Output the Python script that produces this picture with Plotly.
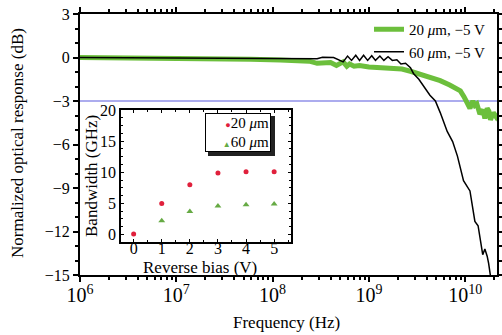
import plotly.graph_objects as go

# Main chart data: frequency (Hz) and normalized optical response (dB)
freq_20 = [1.0e6, 3.0e6, 1.0e7, 3.0e7, 5.9e7, 1.2e8, 2.4e8, 2.9e8, 4.0e8, 4.6e8, 5.4e8, 5.9e8, 6.3e8,
           7.0e8, 8.0e8, 1.0e9, 1.3e9, 1.66e9, 2.2e9, 2.7e9, 3.4e9, 4.3e9, 5.5e9, 6.9e9, 8.0e9,
           8.9e9, 9.7e9, 1.05e10, 1.12e10, 1.2e10, 1.26e10, 1.32e10, 1.42e10, 1.53e10, 1.6e10,
           1.69e10, 1.76e10, 1.83e10, 1.96e10, 2.1e10, 2.2e10]
db_20 = [0.0, -0.02, -0.05, -0.08, -0.12, -0.18, -0.25, -0.4, -0.35, -0.55, -0.3, -0.6, -0.45,
         -0.6, -0.55, -0.65, -0.68, -0.7, -0.8, -0.95, -1.15, -1.4, -1.6, -1.9, -2.1,
         -2.3, -2.7, -3.2, -3.5, -3.0, -3.3, -3.2, -3.9, -3.6, -4.2, -3.5, -3.7, -4.3, -3.8, -4.1, -3.9]

freq_60 = [1.0e6, 1.0e7, 6.0e7, 2.9e8, 3.3e8, 4.3e8, 5.4e8, 6.0e8, 6.6e8, 7.3e8, 8.0e8, 8.8e8,
           9.7e8, 1.07e9, 1.17e9, 1.3e9, 1.43e9, 1.58e9, 1.75e9, 1.95e9, 2.15e9, 2.4e9, 2.7e9,
           2.9e9, 3.3e9, 3.8e9, 4.3e9, 4.9e9, 5.5e9, 6.5e9, 7.4e9, 8.3e9, 9.6e9, 1.12e10,
           1.26e10, 1.36e10, 1.42e10, 1.52e10, 1.6e10, 1.69e10, 1.75e10, 1.85e10]
db_60 = [0.0, -0.03, -0.08, -0.08, 0.02, 0.0, -0.3, 0.1, -0.2, 0.15, -0.2, 0.15,
         -0.2, 0.12, -0.2, 0.1, -0.2, 0.05, -0.2, -0.15, -0.45, -0.4, -0.7,
         -1.1, -1.5, -2.1, -2.6, -3.0, -3.8, -5.1, -5.8, -6.8, -8.5, -9.2,
         -11.3, -11.6, -12.5, -13.6, -13.2, -13.7, -14.2, -15.3]

# Inset data: bandwidth (GHz) vs reverse bias (V)
bias_20 = [0, 1, 2, 3, 4, 5]
bw_20 = [0.1, 5.0, 8.0, 9.9, 10.1, 10.1]
bias_60 = [1, 2, 3, 4, 5]
bw_60 = [2.2, 3.7, 4.6, 4.8, 4.9]

y_ticks = [3, 0, -3, -6, -9, -12, -15]
y_ticktext = ["3", "0", "\u22123", "\u22126", "\u22129", "\u221212", "\u221215"]

FONT = "Liberation Serif"
GREEN = "#6cbf3c"
RED = "#e0203c"
GREEN2 = "#66aa44"

fig = go.Figure()
fig.add_trace(go.Scatter(x=freq_20, y=db_20, mode="lines", name="20 <i>\u03bc</i>m, \u22125 V",
                         line=dict(color=GREEN, width=5)))
fig.add_trace(go.Scatter(x=freq_60, y=db_60, mode="lines", name="60 <i>\u03bc</i>m, \u22125 V",
                         line=dict(color="black", width=1.5)))
fig.add_trace(go.Scatter(x=bias_20, y=bw_20, mode="markers", name="20 <i>\u03bc</i>m",
                         marker=dict(color=RED, size=5, symbol="circle"),
                         xaxis="x2", yaxis="y2", showlegend=False))
fig.add_trace(go.Scatter(x=bias_60, y=bw_60, mode="markers", name="60 <i>\u03bc</i>m",
                         marker=dict(color=GREEN2, size=6, symbol="triangle-up"),
                         xaxis="x2", yaxis="y2", showlegend=False))

L, R, T, B = 80, 497, 14, 275
W, H = 502, 335
def px(x):
    return (x - L) / (R - L)
def py(y):
    return (B - y) / (B - T)

axis_common = dict(showline=True, linecolor="black", mirror="allticks",
                   tickcolor="black", showgrid=False, zeroline=False,
                   automargin=False,
                   tickfont=dict(family=FONT, size=16, color="black"))

fig.update_layout(
    width=W, height=H,
    margin=dict(l=L, r=W - R, t=T, b=H - B),
    paper_bgcolor="white", plot_bgcolor="white",
    font=dict(family=FONT, size=16, color="black"),
    xaxis=dict(type="log", range=[6, 10.33], dtick=1, exponentformat="power",
               ticks="outside", ticklen=5, tickwidth=1.5, linewidth=2, ticklabelstandoff=-3,
               minor=dict(ticks="outside", ticklen=3, tickcolor="black", dtick="D1", showgrid=False),
               **axis_common),
    yaxis=dict(range=[-15, 3], tickvals=y_ticks, ticktext=y_ticktext,
               ticks="outside", ticklen=5, tickwidth=1.5, linewidth=2,
               minor=dict(ticks="outside", ticklen=3, tickcolor="black", dtick=1, showgrid=False),
               **axis_common),
    xaxis2=dict(domain=[px(121), px(291)], anchor="y2", range=[-0.45, 5.6], dtick=1,
                ticks="inside", ticklen=3, tickwidth=1, linewidth=1.5, ticklabelstandoff=-9,
                minor=dict(ticks="inside", ticklen=2, tickcolor="black", dtick=0.5, showgrid=False),
                **axis_common),
    yaxis2=dict(domain=[py(242), py(110)], anchor="x2", range=[-1.2, 20], dtick=5,
                ticks="inside", ticklen=3, tickwidth=1, linewidth=1.5,
                minor=dict(ticks="inside", ticklen=2, tickcolor="black", dtick=1.25, showgrid=False),
                **axis_common),
    legend=dict(x=px(490), y=py(13), xanchor="right", yanchor="top", bgcolor="rgba(0,0,0,0)",
                borderwidth=0, font=dict(family=FONT, size=15), itemwidth=30,
                tracegroupgap=0),
    showlegend=True,
    annotations=[
        dict(text="Frequency (Hz)", xref="paper", yref="paper", x=px(286), y=py(322),
             xanchor="center", yanchor="middle", showarrow=False,
             font=dict(family=FONT, size=17, color="black")),
        dict(text="Normalized optical response (dB)", xref="paper", yref="paper", x=px(17), y=py(143),
             xanchor="center", yanchor="middle", showarrow=False, textangle=-90,
             font=dict(family=FONT, size=17, color="black")),
        dict(text="Reverse bias (V)", xref="paper", yref="paper", x=px(200), y=py(267),
             xanchor="center", yanchor="middle", showarrow=False,
             font=dict(family=FONT, size=17, color="black")),
        dict(text="Bandwidth (GHz)", xref="paper", yref="paper", x=px(91), y=py(176),
             xanchor="center", yanchor="middle", showarrow=False, textangle=-90,
             font=dict(family=FONT, size=17, color="black")),
        dict(text=("<span style='color:%s;font-size:9px'>\u25cf</span>20 <i>\u03bc</i>m<br>"
                   "<span style='color:%s;font-size:8px'>\u25b2</span>60 <i>\u03bc</i>m") % (RED, GREEN2),
             xref="paper", yref="paper", x=px(205), y=py(113), xanchor="left", yanchor="top",
             showarrow=False, align="right", width=62, height=35, borderpad=1, borderwidth=1,
             bordercolor="black", bgcolor="white",
             font=dict(family=FONT, size=15, color="black")),
    ],
)

# -3 dB reference line
fig.add_shape(type="line", xref="x domain", yref="y", x0=0, x1=1, y0=-3, y1=-3,
              line=dict(color="#9090e8", width=1.5), layer="below")
# inset white background
fig.add_shape(type="rect", xref="paper", yref="paper", x0=px(121), x1=px(291), y0=py(242), y1=py(110),
              fillcolor="white", line=dict(width=0), layer="below")
# inset legend shadow
fig.add_shape(type="rect", xref="paper", yref="paper", x0=px(208), x1=px(275), y0=py(156), y1=py(116),
              fillcolor="#222222", line=dict(width=0), layer="above")

fig.write_html("out.html", config={"displayModeBar": False},
               post_script="document.body.style.margin='0';document.body.style.padding='0';")
